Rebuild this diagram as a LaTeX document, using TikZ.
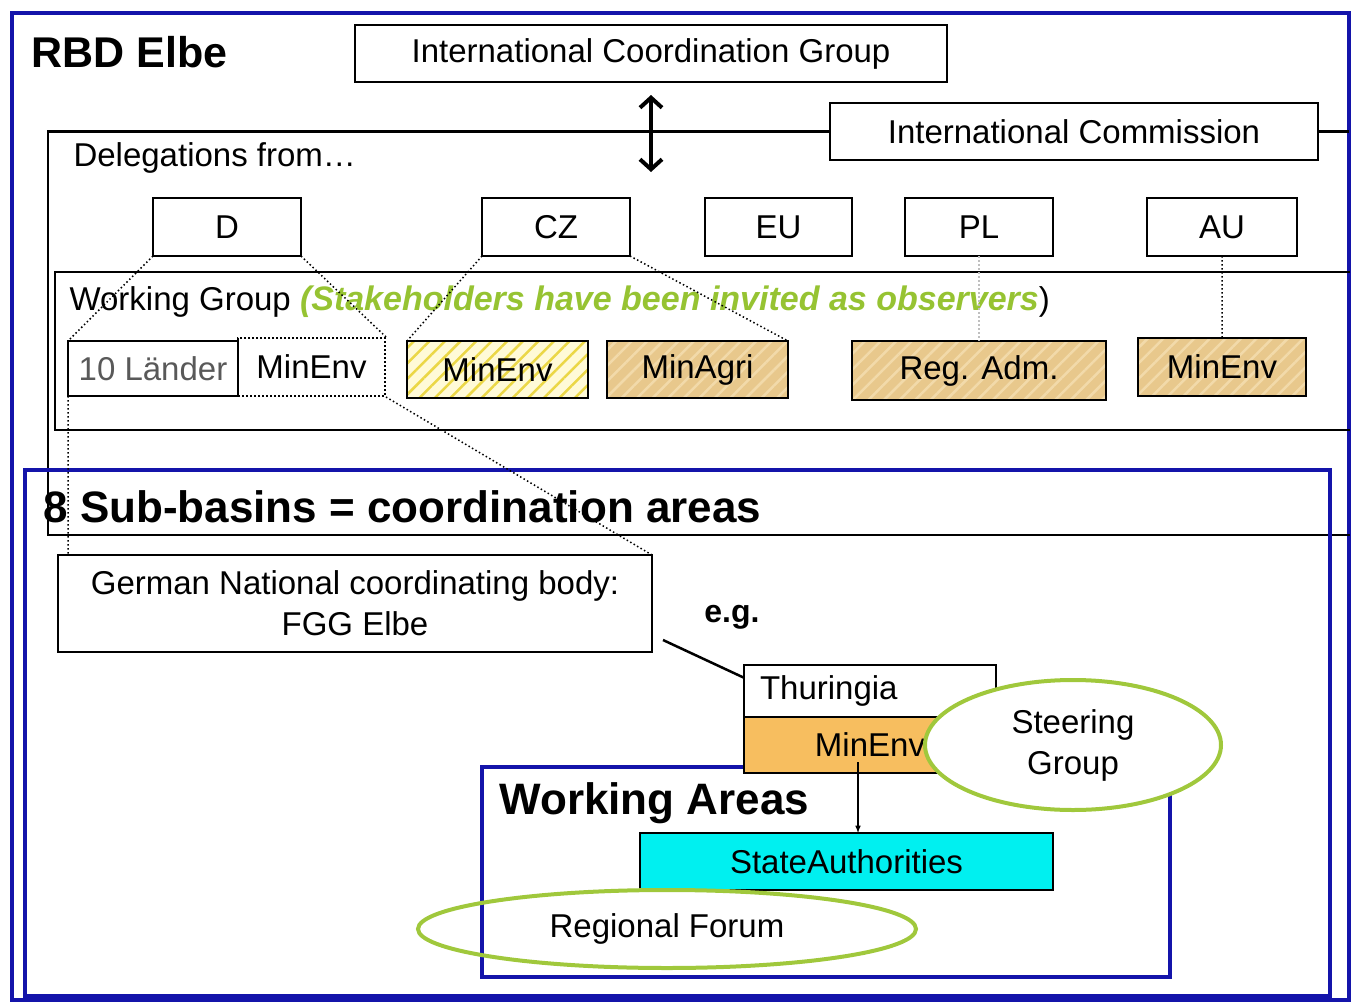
\documentclass[tikz,border=0pt]{standalone}
\usepackage{fontspec}
\setmainfont{Liberation Sans}
\usetikzlibrary{shapes.geometric, arrows.meta, positioning, patterns.meta}

\definecolor{frameblue}{RGB}{20,20,170}
\definecolor{leafgreen}{RGB}{160,200,60}
\definecolor{obsgreen}{RGB}{150,195,50}
\definecolor{tanfill}{RGB}{232,200,140}
\definecolor{tanline}{RGB}{242,218,170}
\definecolor{creamfill}{RGB}{255,250,215}
\definecolor{stripeyellow}{RGB}{235,215,70}
\definecolor{orangefill}{RGB}{247,190,95}
\definecolor{cyanfill}{RGB}{0,240,240}

\tikzset{
    box/.style={draw, line width=2.5pt, inner sep=0pt, outer sep=0pt, align=center},
    tanbox/.style={box, preaction={fill=tanfill},
        pattern={Lines[angle=45,distance=11pt,line width=2.5pt]}, pattern color=tanline},
    link/.style={line width=1.5pt, dash pattern=on 1.5pt off 2.5pt},
    forum/.style={draw=leafgreen, ellipse, line width=4pt, inner sep=0pt, align=center},
    bigtitle/.style={anchor=west, font=\fontsize{44}{50}\selectfont\bfseries}
}

\begin{document}
\begin{tikzpicture}[x=1pt, y=-1pt, font=\fontsize{33}{41}\selectfont]
\useasboundingbox (0,0) rectangle (1353,1004);

% outer frame
\draw[frameblue, line width=4pt] (12,13) rectangle (1349,1000);

\node[anchor=west,
    font=\fontsize{43}{50}\selectfont\bfseries] (rbd) at (28,52) {RBD Elbe};

\node[box,
    minimum width=592pt,
    minimum height=57pt] (icg) at (651,53.5) {International Coordination Group};

\node[box,
    minimum width=488pt,
    minimum height=57pt] (ic) at (1074,131.5) {International Commission};

% commission frame
\draw[line width=2.5pt] (ic.west) -| (48,535) -- (1350,535);
\draw[line width=2.5pt] (ic.east) -- (1349,131.5);

\node[anchor=west] (deleg) at (70,158) {Delegations from…};

\coordinate (deleg_top) at (651,172);
\draw[{Straight Barb[length=10pt,width=22pt]}-{Straight Barb[length=10pt,width=22pt]},
    line width=4pt, shorten <=13pt] (icg.south) -- (deleg_top);

\node[box,
    minimum width=148pt,
    minimum height=58pt] (D) at (227,227) {D};

\node[box,
    right=181pt of D,
    minimum width=148pt,
    minimum height=58pt] (CZ) {CZ};

\node[box,
    right=75pt of CZ,
    line width=1.5pt,
    minimum width=147pt,
    minimum height=58pt] (EU) {EU};

\node[box,
    right=53pt of EU,
    minimum width=148pt,
    minimum height=58pt] (PL) {PL};

\node[box,
    right=94pt of PL,
    minimum width=150pt,
    minimum height=58pt] (AU) {AU};

% working group frame
\draw[line width=2.5pt] (1350,272) -- (55,272) -- (55,430) -- (1350,430);

\node[anchor=west] (wg) at (66,302) {Working Group
    {\color{obsgreen}\fontsize{34}{41}\selectfont\bfseries\itshape (Stakeholders have been invited as observers})};

\node[box,
    text=black!65,
    minimum width=170pt,
    minimum height=55pt] (laender) at (153,368.5) {10 Länder};

\node[draw,
    line width=2pt,
    dash pattern=on 2pt off 2pt,
    inner sep=0pt,
    minimum width=147pt,
    minimum height=58pt] (minenvD) at (311.5,367) {MinEnv};

\node[box,
    preaction={fill=creamfill},
    pattern={Lines[angle=45,distance=11pt,line width=2.5pt]},
    pattern color=stripeyellow,
    minimum width=181pt,
    minimum height=57pt] (minenvCZ) at (497.5,369.5) {MinEnv};

\node[tanbox,
    right=19pt of minenvCZ,
    minimum width=181pt,
    minimum height=57pt] (minagri) {MinAgri};

\node[tanbox,
    minimum width=254pt,
    minimum height=59pt] (regadm) at (979,370.5) {Reg. Adm.};

\node[tanbox,
    minimum width=168pt,
    minimum height=58pt] (minenvAU) at (1222,367) {MinEnv};

% sub-basins
\draw[frameblue, line width=4.5pt] (25,470) rectangle (1330,996);
\node[bigtitle] (sub) at (40,507) {8 Sub-basins = coordination areas};

\node[box,
    minimum width=594pt,
    minimum height=97pt] (fgg) at (355,603.5) {German National coordinating body:\\FGG Elbe};

\node[font=\fontsize{32}{38}\selectfont\bfseries] (eg) at (732,617) {e.g.};

% working areas
\draw[frameblue, line width=4.5pt] (482,767) rectangle (1170,977);
\node[bigtitle] (wa) at (496,803) {Working Areas};

\node[box,
    align=left,
    text width=220pt,
    inner xsep=16pt,
    minimum height=52pt] (thur) at (870,691) {Thuringia};

\node[box,
    below=0pt of thur,
    fill=orangefill,
    minimum width=252pt,
    minimum height=56pt] (minenvT) {MinEnv};

\node[forum,
    fill=white,
    minimum width=296pt,
    minimum height=130pt] (steer) at (1073,745) {Steering\\Group};

\node[box,
    fill=cyanfill,
    minimum width=413pt,
    minimum height=57pt] (state) at (846.5,861.5) {StateAuthorities};

\node[forum,
    minimum width=498pt,
    minimum height=78pt] (forum) at (667,929) {Regional Forum};

\coordinate (wa_in) at (858,762);
\draw[-latex, line width=1.5pt] (wa_in) -- (wa_in |- state.north);

\draw[line width=2.5pt] ([xshift=11pt,yshift=12pt]fgg.south east) -- (thur.174);

% delegation links
\draw[link] (D.south west) -- (laender.north west)
    (D.south east) -- (minenvD.north east)
    (laender.south west) -- (laender.south west |- fgg.north)
    (minenvD.south east) -- (fgg.north east)
    (CZ.south west) -- (minenvCZ.north west)
    (CZ.south east) -- (minagri.north east)
    (AU.south) -- (minenvAU.north);
\draw[link, gray!50] (PL.south) -- (regadm.north);

\end{tikzpicture}
\end{document}
